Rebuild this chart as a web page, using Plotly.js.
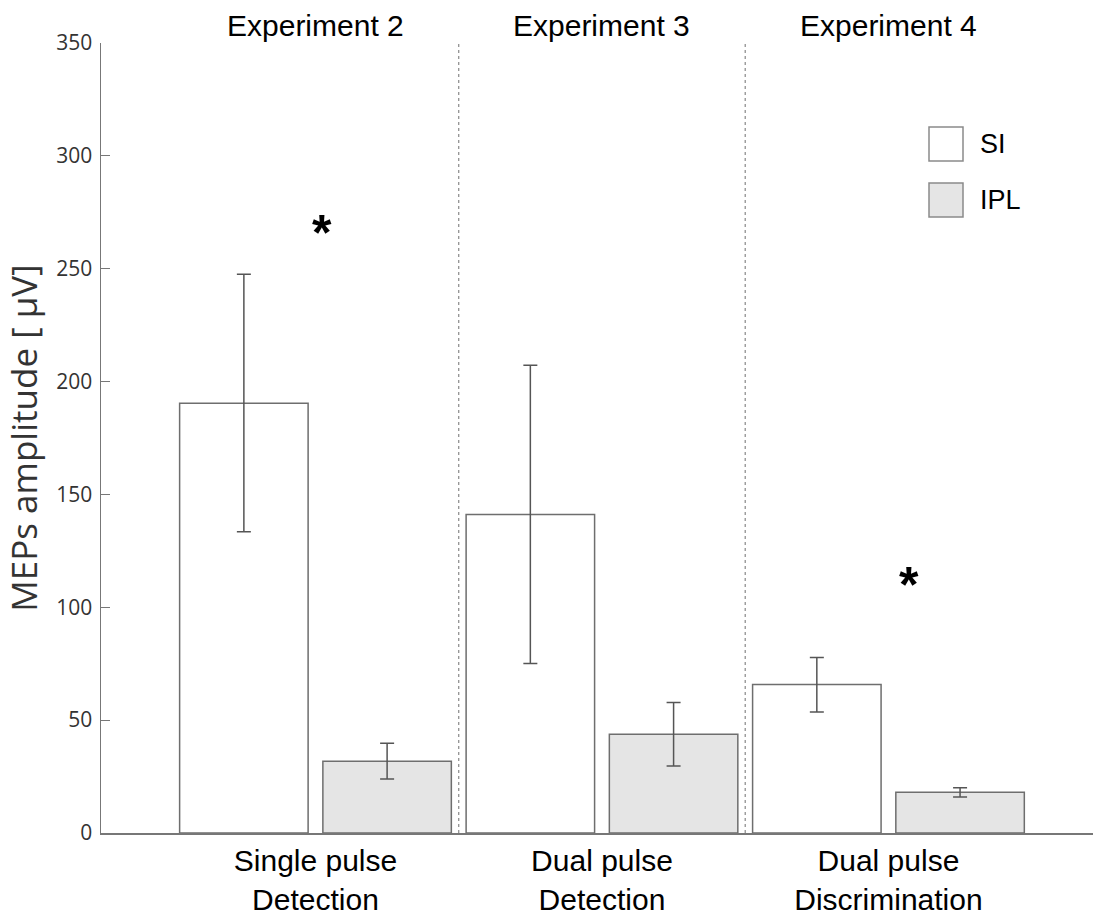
<!DOCTYPE html>
<html>
<head>
<meta charset="utf-8">
<script src="https://cdn.plot.ly/plotly-3.0.1.min.js"></script>
<style>html,body{margin:0;padding:0;background:#fff;}#chart{width:1093px;height:914px;}</style>
</head>
<body>
<div id="chart"></div>
<script>
var categories = ["Single pulse<br>Detection", "Dual pulse<br>Detection", "Dual pulse<br>Discrimination"];
var experiments = ["Experiment 2", "Experiment 3", "Experiment 4"];
var siMean = [190.4, 141.1, 65.8];
var siErrUp = [57.2, 66.1, 12.0];
var siErrDown = [56.9, 66.0, 12.2];
var iplMean = [31.8, 43.8, 18.0];
var iplErrUp = [8.0, 14.0, 2.1];
var iplErrDown = [7.9, 14.1, 2.0];
var sigCategoryIndex = [0, 2];
var sigOffset = [0.023, 0.07];
var sigY = [269, 113];
var seriesNames = ["SI", "IPL"];

var errStyle = {color: "#555", thickness: 1.5, width: 7};
var traces = [
  {type: "bar", name: seriesNames[0], x: [0,1,2], y: siMean,
   marker: {color: "#ffffff", line: {color: "#6e6e6e", width: 1.5}},
   error_y: Object.assign({type: "data", symmetric: false, array: siErrUp, arrayminus: siErrDown}, errStyle),
   showlegend: false, hoverinfo: "y"},
  {type: "bar", name: seriesNames[1], x: [0,1,2], y: iplMean,
   marker: {color: "#e5e5e5", line: {color: "#6e6e6e", width: 1.5}},
   error_y: Object.assign({type: "data", symmetric: false, array: iplErrUp, arrayminus: iplErrDown}, errStyle),
   showlegend: false, hoverinfo: "y"}
];

var annotations = [];
experiments.forEach(function (t, i) {
  annotations.push({text: t, x: i, xref: "x", y: 1, yref: "paper", yanchor: "bottom",
    xanchor: "center", showarrow: false, yshift: -1,
    font: {family: "Liberation Sans, Arial, sans-serif", size: 30, color: "#000"}});
});
sigCategoryIndex.forEach(function (c, i) {
  annotations.push({text: "<b>*</b>", x: c + sigOffset[i], xref: "x", y: sigY[i], yref: "y",
    yanchor: "middle", xanchor: "center", showarrow: false, yshift: -7,
    font: {family: "Liberation Sans, Arial, sans-serif", size: 50, color: "#000"}});
});
// legend (custom, paper coords)
var legendFill = ["#ffffff", "#e5e5e5"];
var shapes = [];
seriesNames.forEach(function (n, i) {
  var x0 = (929 - 101) / 992, x1 = (963 - 101) / 992;
  var top = [127, 183][i];
  var y1 = 1 - (top - 43) / 789.7, y0 = 1 - (top + 34 - 43) / 789.7;
  shapes.push({type: "rect", xref: "paper", yref: "paper", x0: x0, x1: x1, y0: y0, y1: y1,
    fillcolor: legendFill[i], line: {color: "#8a8a8a", width: 1.5}});
  annotations.push({text: n, xref: "paper", yref: "paper", x: (978 - 101) / 992, y: (y0 + y1) / 2,
    xanchor: "left", yanchor: "middle", showarrow: false,
    font: {family: "Liberation Sans, Arial, sans-serif", size: 27, color: "#000"}});
});
// dotted separators between experiments
[0.5, 1.5].forEach(function (xv) {
  shapes.push({type: "line", xref: "x", yref: "paper", x0: xv, x1: xv, y0: 0, y1: 1,
    line: {color: "#888", width: 1.2, dash: "dot"}});
});

var layout = {
  width: 1093, height: 914,
  margin: {l: 101, r: 0, t: 43, b: 81},
  paper_bgcolor: "#fff", plot_bgcolor: "#fff",
  barmode: "group", bargap: 0, bargroupgap: 0.103,
  xaxis: {
    range: [-0.7487, 2.714], tickvals: [0,1,2], ticktext: categories,
    showgrid: false, zeroline: false, showline: true, linecolor: "#777", linewidth: 1.5,
    ticks: "", tickfont: {family: "Liberation Sans, Arial, sans-serif", size: 30, color: "#000"}
  },
  yaxis: {
    range: [0, 350], tickvals: [0,50,100,150,200,250,300,350],
    showgrid: false, zeroline: false, showline: true, linecolor: "#777", linewidth: 1.5,
    ticks: "inside", ticklen: 9, tickcolor: "#777", tickwidth: 1.2, ticklabelstandoff: 3,
    tickfont: {family: "Open Sans, sans-serif", size: 21, color: "#333"},
    title: {text: "MEPs amplitude [ μV]", standoff: 16,
      font: {family: "Open Sans, sans-serif", size: 35, color: "#333"}}
  },
  annotations: annotations,
  shapes: shapes
};
Plotly.newPlot("chart", traces, layout, {displayModeBar: false, staticPlot: true});
</script>
</body>
</html>
